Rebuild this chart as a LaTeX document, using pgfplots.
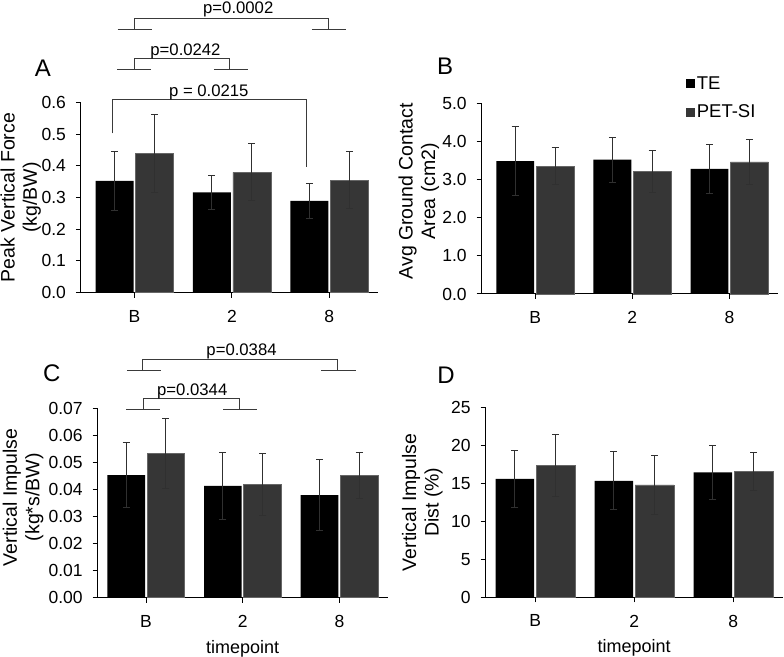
\documentclass[border=0pt]{standalone}
\usepackage{fontspec}
\setmainfont{Liberation Sans}
\usepackage{pgfplots}
\pgfplotsset{compat=1.18}

\definecolor{pet}{HTML}{363636}
\definecolor{errc}{HTML}{303030}
\definecolor{brkc}{HTML}{3A3A3A}

\pgfplotsset{
  panel/.style={
    scale only axis,
    axis x line*=bottom, axis y line*=left,
    axis line style={-, black, line width=1pt},
    tick align=outside, major tick length=5pt,
    tick style={black, line width=1pt},
    xtick={0,1,2}, xticklabels={B,2,8},
    ymin=0,
    /pgf/number format/assume math mode=true,
    scaled y ticks=false,
    yticklabel style={/pgf/number format/fixed, /pgf/number format/fixed zerofill, xshift=-6.5pt},
    xticklabel style={yshift=-9pt},
    tick label style={font=\fontsize{17.5pt}{20pt}\selectfont},
    label style={font=\fontsize{19.5pt}{22.5pt}\selectfont},
    clip=false,
    ylabel style={align=center, anchor=center},
    xlabel style={anchor=base, font=\fontsize{18pt}{21pt}\selectfont},
  },
  tebar/.style={ybar, bar width=0.39, bar shift=0pt, fill=black, draw=none,
    error bars/.cd, y dir=both, y explicit,
    error bar style={errc, line width=1pt},
    error mark options={rotate=90, errc, mark size=3.5pt, line width=1pt}},
  petbar/.style={ybar, bar width=0.39, bar shift=0pt, fill=pet, draw=black!60, line width=0.5pt,
    error bars/.cd, y dir=both, y explicit,
    error bar style={errc, line width=1pt},
    error mark options={rotate=90, errc, mark size=3.5pt, line width=1pt}},
}
\tikzset{bracket/.style={draw=brkc, line width=1pt},
  pv/.style={anchor=base, font=\fontsize{16.7pt}{20pt}\selectfont},
  panlab/.style={font=\fontsize{24pt}{26pt}\selectfont}}

\begin{document}
\begin{tikzpicture}
\useasboundingbox (0,0) rectangle (784pt,656pt);

% A
\begin{axis}[panel, at={(81pt,363.3pt)}, anchor=south west,
  width=297pt, height=190.4pt, xmin=-0.55, xmax=2.5, ymax=0.6, ytick={0,0.1,...,0.6},
  yticklabel style={/pgf/number format/precision=1},
  ylabel={Peak Vertical Force\\(kg/BW)},
  ylabel style={at={(axis description cs:-0.203,0.5)}}]
\addplot[tebar] coordinates {(-0.205,0.352) +- (0,0.094) (0.795,0.316) +- (0,0.053) (1.795,0.289) +- (0,0.055)};
\addplot[petbar] coordinates {(0.205,0.440) +- (0,0.123) (1.205,0.379) +- (0,0.090) (2.205,0.355) +- (0,0.090)};
\draw[bracket] (axis cs:-0.227,0.502) |- (axis cs:1.763,0.609) -- (axis cs:1.763,0.397);
\node[pv] at (axis cs:0.763,0.618) {p = 0.0215};
\draw[bracket] (axis cs:-0.18,0.702) -- (axis cs:0.17,0.702);
\draw[bracket] (axis cs:0,0.702) |- (axis cs:0.98,0.739) -- (axis cs:0.98,0.702);
\draw[bracket] (axis cs:0.815,0.702) -- (axis cs:1.165,0.702);
\node[pv] at (axis cs:0.523,0.749) {p=0.0242};
\draw[bracket] (axis cs:-0.175,0.830) -- (axis cs:0.175,0.830);
\draw[bracket] (axis cs:0,0.830) |- (axis cs:1.987,0.865) -- (axis cs:1.987,0.830);
\draw[bracket] (axis cs:1.82,0.830) -- (axis cs:2.17,0.830);
\node[pv] at (axis cs:1.065,0.879) {p=0.0002};
\end{axis}

% B
\begin{axis}[panel, at={(481.7pt,362pt)}, anchor=south west,
  width=296.3pt, height=190.3pt, xmin=-0.55, xmax=2.5, ymax=5, ytick={0,1,...,5},
  yticklabel style={/pgf/number format/precision=1},
  ylabel={Avg Ground Contact\\Area (cm2)},
  ylabel style={at={(axis description cs:-0.212,0.54)}},
  legend image code/.code={\fill[#1] (0pt,-4.5pt) rectangle (9pt,4.5pt);},
  legend style={at={(axis description cs:0.69,1.15)}, anchor=north west, draw=none, fill=none,
    inner sep=0pt, row sep=11pt, nodes={inner sep=1.5pt},
    font=\fontsize{18.5pt}{21pt}\selectfont},
  legend cell align=left]
\addlegendimage{fill=black, draw=none}
\addlegendimage{fill=pet, draw=none}
\addplot[forget plot, tebar] coordinates {(-0.205,3.49) +- (0,0.90) (0.795,3.53) +- (0,0.59) (1.795,3.29) +- (0,0.64)};
\addplot[forget plot, petbar] coordinates {(0.205,3.36) +- (0,0.48) (1.205,3.22) +- (0,0.56) (2.205,3.47) +- (0,0.60)};
\legend{TE,PET-SI}
\end{axis}

% C
\begin{axis}[panel, at={(97.7pt,58.3pt)}, anchor=south west,
  width=290pt, height=189.4pt, xmin=-0.5, xmax=2.5, ymax=0.07, ytick={0,0.01,...,0.07},
  yticklabel style={/pgf/number format/precision=2},
  ylabel={Vertical Impulse\\(kg*s/BW)},
  ylabel style={at={(axis description cs:-0.257,0.53)}},
  xlabel={timepoint},
  xlabel style={at={(axis description cs:0.5,-0.293)}}]
\addplot[tebar] coordinates {(-0.205,0.0453) +- (0,0.0119) (0.795,0.0413) +- (0,0.0125) (1.795,0.0379) +- (0,0.0132)};
\addplot[petbar] coordinates {(0.205,0.0534) +- (0,0.0130) (1.205,0.0418) +- (0,0.0115) (2.205,0.0451) +- (0,0.0084)};
\draw[bracket] (axis cs:-0.205,0.0694) -- (axis cs:0.149,0.0694);
\draw[bracket] (axis cs:-0.028,0.0694) |- (axis cs:0.97,0.0737) -- (axis cs:0.97,0.0694);
\draw[bracket] (axis cs:0.797,0.0694) -- (axis cs:1.151,0.0694);
\node[pv] at (axis cs:0.478,0.0749) {p=0.0344};
\draw[bracket] (axis cs:-0.197,0.0839) -- (axis cs:0.156,0.0839);
\draw[bracket] (axis cs:-0.035,0.0839) |- (axis cs:1.981,0.0882) -- (axis cs:1.981,0.0839);
\draw[bracket] (axis cs:1.81,0.0839) -- (axis cs:2.17,0.0839);
\node[pv] at (axis cs:0.988,0.0895) {p=0.0384};
\end{axis}

% D
\begin{axis}[panel, at={(485.7pt,58.7pt)}, anchor=south west,
  width=297pt, height=190pt, xmin=-0.5, xmax=2.5, ymax=25, ytick={0,5,...,25},
  yticklabel style={/pgf/number format/precision=0},
  ylabel={Vertical Impulse\\Dist (\%)},
  ylabel style={at={(axis description cs:-0.213,0.5)}},
  xlabel={timepoint},
  xlabel style={at={(axis description cs:0.5,-0.293)}}]
\addplot[tebar] coordinates {(-0.205,15.57) +- (0,3.72) (0.795,15.31) +- (0,3.82) (1.795,16.45) +- (0,3.58)};
\addplot[petbar] coordinates {(0.205,17.37) +- (0,4.10) (1.205,14.78) +- (0,3.92) (2.205,16.54) +- (0,2.52)};
\end{axis}

\node[panlab] at (43pt,588pt) {A};
\node[panlab] at (445pt,590pt) {B};
\node[panlab] at (51.7pt,282.7pt) {C};
\node[panlab] at (446pt,281pt) {D};
\end{tikzpicture}
\end{document}
